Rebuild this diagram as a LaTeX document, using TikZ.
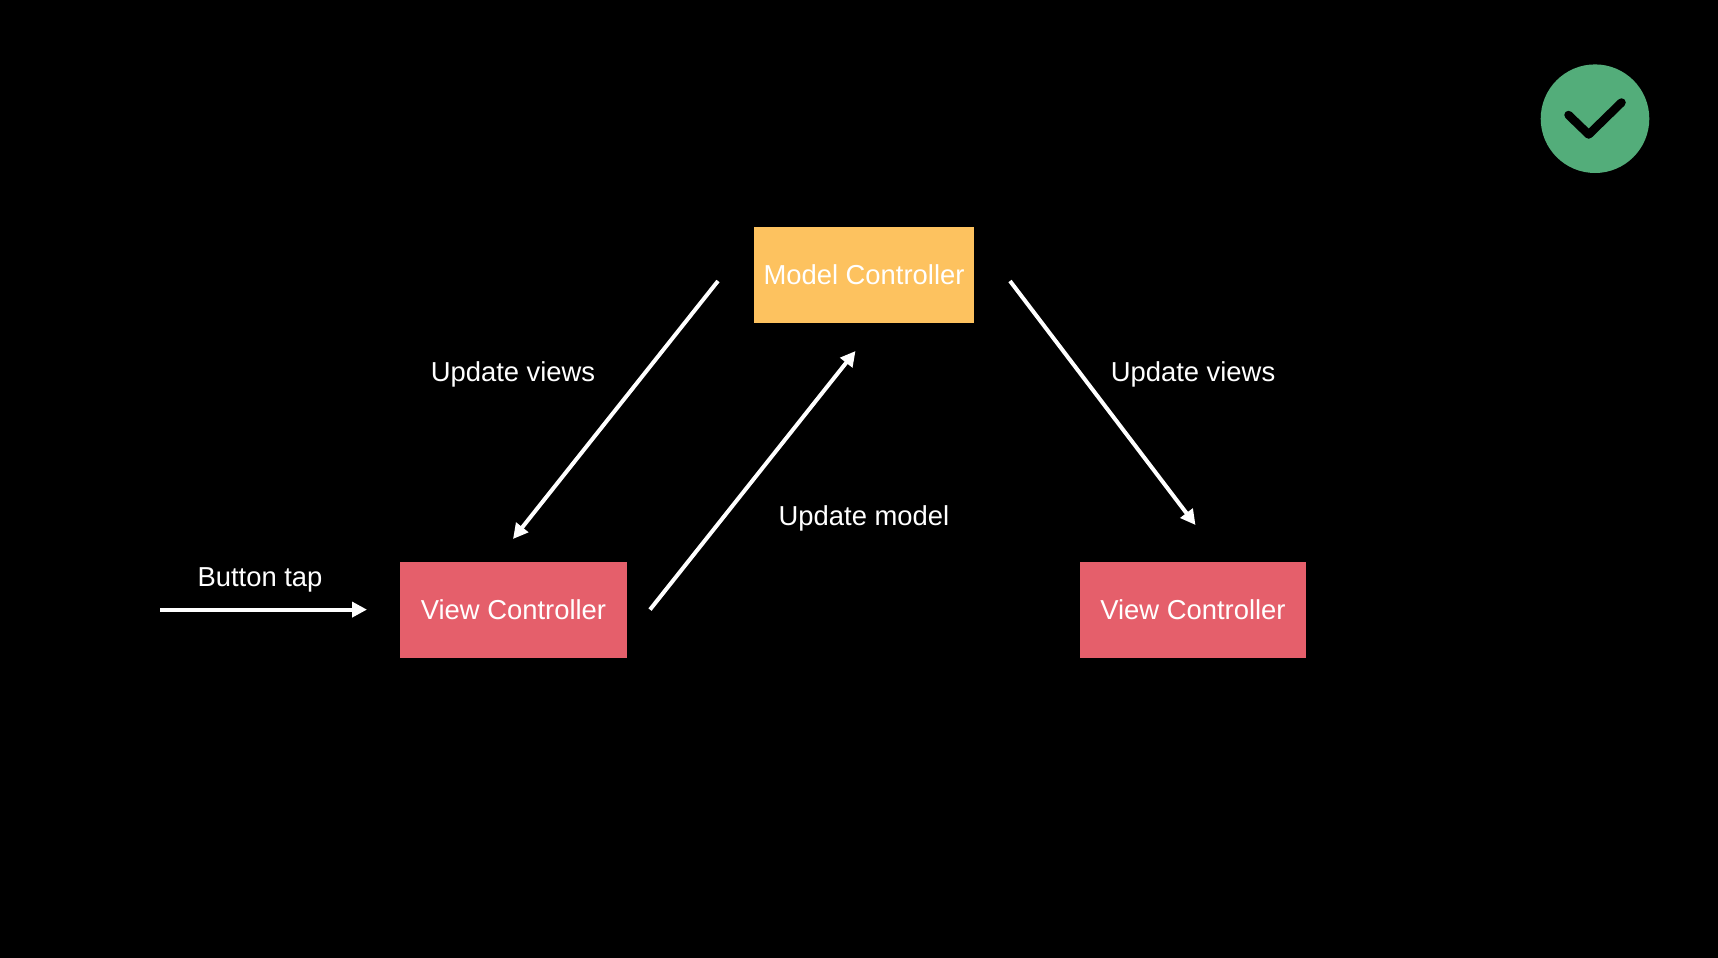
\documentclass[tikz,border=0pt]{standalone}
\usepackage{fontspec}
\setmainfont{Liberation Sans}
\usetikzlibrary{arrows.meta}
\definecolor{boxred}{HTML}{E55F6B}
\definecolor{boxorange}{HTML}{FDC25F}
\definecolor{okgreen}{HTML}{53AD7A}
\tikzset{
  boxnode/.style={rectangle,inner sep=0pt,minimum height=96.5pt,text=white,font=\fontsize{27.4}{30}\selectfont,text height=20pt,text depth=0pt},
  viewbox/.style={boxnode,fill=boxred,minimum width=226.5pt},
  modelbox/.style={boxnode,fill=boxorange,minimum width=219.5pt},
  lbl/.style={text=white,font=\fontsize{27.4}{30}\selectfont,inner sep=0pt,anchor=base},
  flow/.style={draw=white,line width=4pt,-{Triangle[length=15pt,width=15pt]}},
}
\begin{document}
\begin{tikzpicture}[x=1pt,y=-1pt]
\fill[black] (0,0) rectangle (1718,958);
\node[modelbox] (model) at (864,274.8) {Model Controller};
\node[viewbox] (viewl) at (513.5,609.8) {View Controller};
\node[viewbox] (viewr) at (1193,609.8) {View Controller};
\node[lbl] (lblvl) at (513,381) {Update views};
\node[lbl] (lblvr) at (1193,381) {Update views};
\node[lbl] (lblm) at (864,525.6) {Update model};
\node[lbl] (lblb) at (260,586) {Button tap};
\coordinate (bs) at (160,609.6);
\coordinate (be) at (367,609.6);
\coordinate (vls) at (718,281);
\coordinate (vle) at (513,539);
\coordinate (ms) at (650,609.6);
\coordinate (me) at (855.5,351);
\coordinate (vrs) at (1010,281);
\coordinate (vre) at (1195.5,525);
\draw[flow] (bs) -- (be);
\draw[flow] (vls) -- (vle);
\draw[flow] (ms) -- (me);
\draw[flow] (vrs) -- (vre);
\node[circle,fill=okgreen,minimum size=108.6pt,inner sep=0pt] (ok) at (1595,118.7) {};
\coordinate (c1) at (1568.5,115);
\coordinate (c2) at (1588.7,134.5);
\coordinate (c3) at (1621.5,102.5);
\draw[black,line width=8.5pt,line cap=round,line join=round] (c1) -- (c2) -- (c3);
\end{tikzpicture}
\end{document}
